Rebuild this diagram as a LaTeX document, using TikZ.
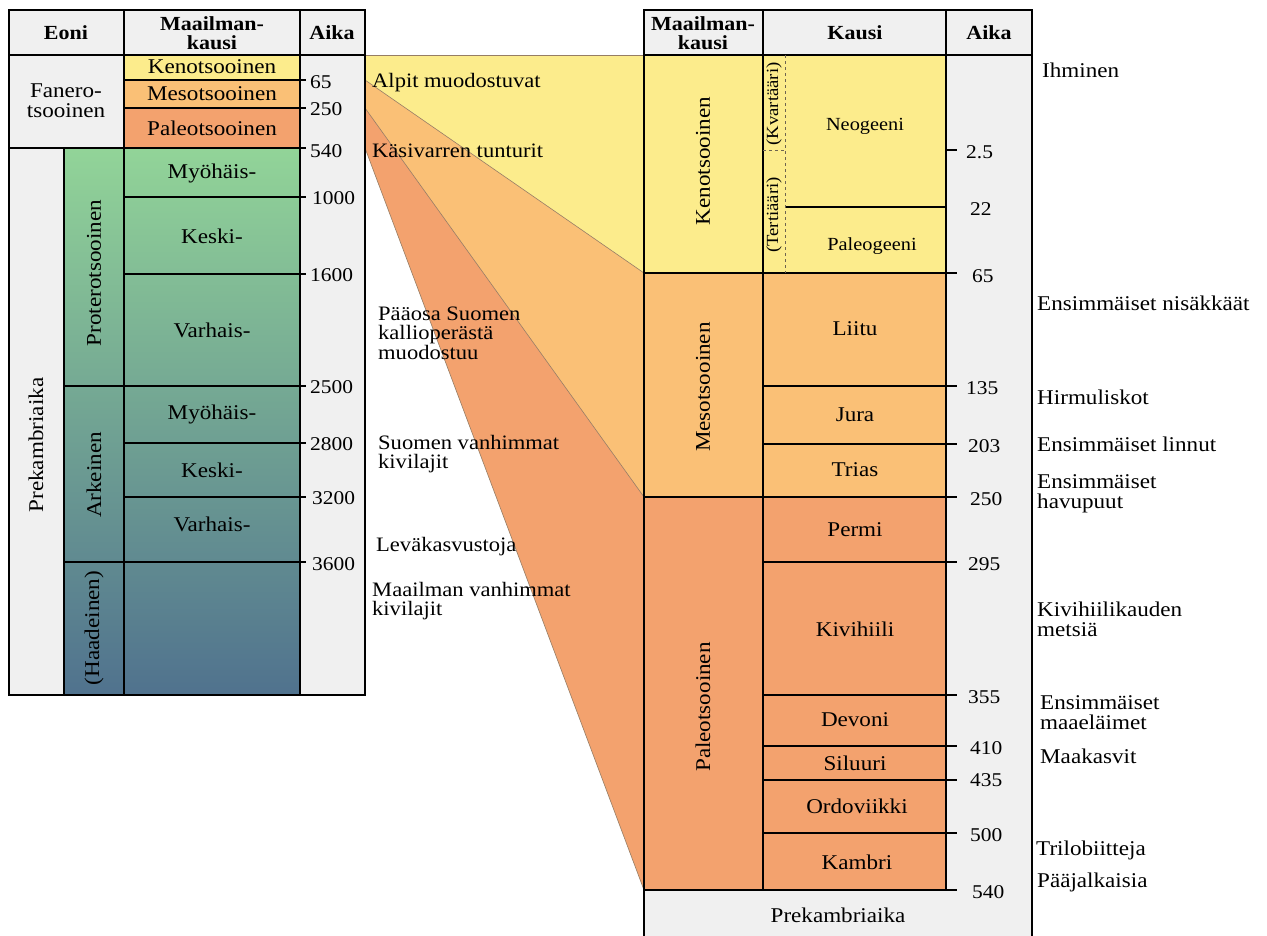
\documentclass[tikz,border=0pt]{standalone}
\usepackage{fontspec}
\setmainfont[FakeStretch=1.1]{Liberation Serif}
\definecolor{bg}{RGB}{240,240,240}
\definecolor{keno}{RGB}{252,236,140}
\definecolor{meso}{RGB}{250,192,118}
\definecolor{paleo}{RGB}{243,162,110}
\definecolor{gtop}{RGB}{146,212,152}
\definecolor{gmid}{RGB}{108,168,140}
\definecolor{gbot}{RGB}{80,114,142}
\definecolor{fanline}{RGB}{150,125,100}
\definecolor{dashcol}{RGB}{110,100,80}
\tikzset{
  tline/.style={line width=1.4pt, black},
  fanedge/.style={line width=0.6pt, fanline},
  txt/.style={font=\fontsize{21}{21}\selectfont, inner sep=0pt},
  hdr/.style={font=\bfseries\fontsize{20}{18.5}\selectfont, align=center, inner sep=0pt},
  tiny/.style={font=\fontsize{17}{17}\selectfont, inner sep=0pt},
  lab/.style={font=\fontsize{21}{20}\selectfont, align=left, anchor=west, inner sep=0pt},
  mlab/.style={font=\fontsize{20.5}{19.5}\selectfont, align=left, anchor=west, inner sep=0pt},
  age/.style={font=\fontsize{19.5}{20}\selectfont, anchor=west, inner sep=0pt}
}
\begin{document}
\begin{tikzpicture}[x=1pt,y=-1pt]
\useasboundingbox (0,0) rectangle (1267,935);
\fill[white] (0,0) rectangle (1267,935);

% ---------- fans ----------
\fill[keno] (365,55) -- (644,55) -- (644,273) -- (365,80) -- cycle;
\fill[meso] (365,80) -- (644,273) -- (644,497) -- (365,108) -- cycle;
\fill[paleo] (365,108) -- (644,497) -- (644,890) -- (365,148) -- cycle;
\draw[fanedge] (365,55) -- (644,55);
\draw[fanedge] (365,80) -- (644,273);
\draw[fanedge] (365,108) -- (644,497);
\draw[fanedge] (365,148) -- (644,890);

% ---------- left table ----------
\fill[bg] (9,10) rectangle (365,695);
\fill[keno] (124,55) rectangle (300,80);
\fill[meso] (124,80) rectangle (300,108);
\fill[paleo] (124,108) rectangle (300,148);
\shade[top color=gtop, middle color=gmid, bottom color=gbot] (64,148) rectangle (300,695);

\draw[tline] (9,10) rectangle (365,695);
\draw[tline] (9,55) -- (365,55);
\draw[tline] (124,10) -- (124,695);
\draw[tline] (300,10) -- (300,695);
\draw[tline] (64,148) -- (64,695);
\draw[tline] (9,148) -- (306,148);
\draw[tline] (124,80) -- (306,80);
\draw[tline] (124,108) -- (306,108);
\draw[tline] (124,197) -- (306,197);
\draw[tline] (124,274) -- (306,274);
\draw[tline] (64,386) -- (306,386);
\draw[tline] (124,443) -- (306,443);
\draw[tline] (124,497) -- (306,497);
\draw[tline] (64,562) -- (306,562);

\node[hdr] (hEoni) at (66,33) {Eoni};
\node[hdr] (hMk) at (212,33) {Maailman-\\kausi};
\node[hdr] (hAika) at (332,33) {Aika};

\node[txt, align=center, font=\fontsize{21}{20}\selectfont] (lFan) at (66,101) {Fanero-\\tsooinen};
\node[txt] (lKeno) at (212,67) {Kenotsooinen};
\node[txt] (lMeso) at (212,94) {Mesotsooinen};
\node[txt] (lPaleo) at (212,128) {Paleotsooinen};
\node[txt, rotate=90] (lPrek) at (36,445) {Prekambriaika};
\node[txt, rotate=90] (lProt) at (94,273) {Proterotsooinen};
\node[txt, rotate=90] (lArk) at (94,475) {Arkeinen};
\node[txt, rotate=90] (lHaa) at (94,628) {(Haadeinen)};
\node[txt] (lP1) at (212,173) {Myöhäis-};
\node[txt] (lP2) at (212,236) {Keski-};
\node[txt] (lP3) at (212,330) {Varhais-};
\node[txt] (lA1) at (212,414) {Myöhäis-};
\node[txt] (lA2) at (212,470) {Keski-};
\node[txt] (lA3) at (212,524) {Varhais-};

\node[age] (a65) at (310,82) {65};
\node[age] (a250) at (310,109) {250};
\node[age] (a540) at (310,151) {540};
\node[age] (a1000) at (312,198) {1000};
\node[age] (a1600) at (310,275) {1600};
\node[age] (a2500) at (310,387) {2500};
\node[age] (a2800) at (310,444) {2800};
\node[age] (a3200) at (312,498) {3200};
\node[age] (a3600) at (312,564) {3600};

% ---------- middle labels ----------
\node[mlab] (mAlp) at (372,83) {Alpit muodostuvat};
\node[mlab] (mKas) at (372,151) {Käsivarren tunturit};
\node[mlab] (mPaa) at (378,333) {Pääosa Suomen\\kallioperästä\\muodostuu};
\node[mlab] (mSuo) at (378,454) {Suomen vanhimmat\\kivilajit};
\node[mlab] (mLev) at (376,547) {Leväkasvustoja};
\node[mlab] (mMaa) at (372,601) {Maailman vanhimmat\\kivilajit};

% ---------- right table ----------
\fill[bg] (644,10) rectangle (1032,940);
\fill[keno] (644,55) rectangle (946,273);
\fill[meso] (644,273) rectangle (946,497);
\fill[paleo] (644,497) rectangle (946,890);

\draw[tline] (644,10) rectangle (1032,940);
\draw[tline] (644,55) -- (1032,55);
\draw[tline] (763,10) -- (763,890);
\draw[tline] (946,10) -- (946,890);
\draw[tline] (644,273) -- (957,273);
\draw[tline] (644,497) -- (957,497);
\draw[tline] (644,890) -- (957,890);
\draw[tline] (785,207) -- (946,207);
\draw[tline] (946,150) -- (957,150);
\draw[tline] (763,386) -- (957,386);
\draw[tline] (763,444) -- (957,444);
\draw[tline] (763,562) -- (957,562);
\draw[tline] (763,695) -- (957,695);
\draw[tline] (763,746) -- (957,746);
\draw[tline] (763,780) -- (957,780);
\draw[tline] (763,833) -- (957,833);
\draw[dashcol, line width=0.8pt, dashed] (785,55) -- (785,273);
\draw[dashcol, line width=0.8pt, dashed] (763,150) -- (785,150);

\node[hdr] (rhMk) at (703,33) {Maailman-\\kausi};
\node[hdr] (rhKausi) at (855,33) {Kausi};
\node[hdr] (rhAika) at (989,33) {Aika};

\node[txt, rotate=90] (rKeno) at (703,161) {Kenotsooinen};
\node[txt, rotate=90] (rMeso) at (703,387) {Mesotsooinen};
\node[txt, rotate=90] (rPaleo) at (703,707) {Paleotsooinen};
\node[tiny, rotate=90] (rKva) at (774,104) {(Kvartääri)};
\node[tiny, rotate=90] (rTer) at (774,215) {(Tertiääri)};
\node[txt, font=\fontsize{18.5}{19}\selectfont] (rNeo) at (865,126) {Neogeeni};
\node[txt, font=\fontsize{18.5}{19}\selectfont] (rPal) at (872,246) {Paleogeeni};
\node[txt] (rLii) at (855,329) {Liitu};
\node[txt] (rJur) at (855,415) {Jura};
\node[txt] (rTri) at (855,470) {Trias};
\node[txt] (rPer) at (855,530) {Permi};
\node[txt] (rKiv) at (855,629) {Kivihiili};
\node[txt] (rDev) at (855,720) {Devoni};
\node[txt] (rSil) at (855,763) {Siluuri};
\node[txt] (rOrd) at (857,806) {Ordoviikki};
\node[txt] (rKam) at (857,862) {Kambri};
\node[txt] (rPrek) at (838,915) {Prekambriaika};

\node[age] (b25) at (966,152) {2.5};
\node[age] (b22) at (970,209) {22};
\node[age] (b65) at (972,276) {65};
\node[age] (b135) at (966,388) {135};
\node[age] (b203) at (968,446) {203};
\node[age] (b250) at (970,499) {250};
\node[age] (b295) at (968,564) {295};
\node[age] (b355) at (968,697) {355};
\node[age] (b410) at (970,748) {410};
\node[age] (b435) at (970,780) {435};
\node[age] (b500) at (970,835) {500};
\node[age] (b540) at (972,892) {540};

% ---------- right event labels ----------
\node[lab] (eIhm) at (1042,70) {Ihminen};
\node[lab] (eNis) at (1037,303) {Ensimmäiset nisäkkäät};
\node[lab] (eHir) at (1037,397) {Hirmuliskot};
\node[lab] (eLin) at (1037,444) {Ensimmäiset linnut};
\node[lab] (eHav) at (1037,494) {Ensimmäiset\\havupuut};
\node[lab] (eKiv) at (1037,619) {Kivihiilikauden\\metsiä};
\node[lab] (eMaa) at (1040,713) {Ensimmäiset\\maaeläimet};
\node[lab] (eMak) at (1040,756) {Maakasvit};
\node[lab] (eTri) at (1036,850) {Trilobiitteja};
\node[lab] (ePaa) at (1037,882) {Pääjalkaisia};
\end{tikzpicture}
\end{document}
